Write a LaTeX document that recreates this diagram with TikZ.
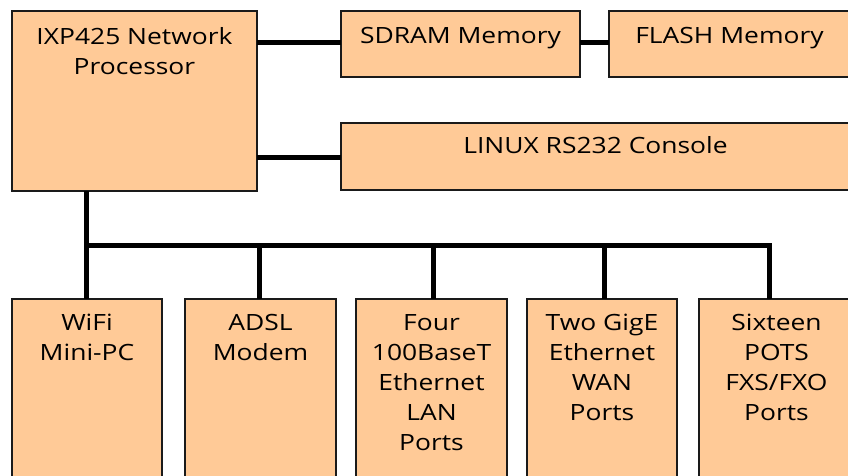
\documentclass[tikz,border=0pt]{standalone}
\usepackage{fontspec}
\setmainfont[FakeStretch=1.18]{Open Sans}
\definecolor{peach}{HTML}{FFCA97}
\definecolor{edge}{HTML}{1A1A1A}
\begin{document}
\begin{tikzpicture}[x=1pt,y=-1pt,
  box/.style={draw=edge, fill=peach, line width=2pt, rectangle, outer sep=0pt, inner sep=0pt, anchor=north west},
  txt/.style={anchor=north, align=center, inner sep=0pt, font=\fontsize{22.4pt}{30pt}\selectfont},
  conn/.style={line width=5pt, black, line join=miter, line cap=butt}]
\useasboundingbox (0,0) rectangle (848,476);
\clip (0,0) rectangle (848,476);
\fill[white] (0,0) rectangle (848,476);
% top boxes
\node[box, minimum width=245pt, minimum height=180pt] (ixp) at (12,11) {};
\node[box, minimum width=239pt, minimum height=66pt] (sdram) at (341,11) {};
\node[box, minimum width=241pt, minimum height=66pt] (flash) at (609,11) {};
\node[box, minimum width=509pt, minimum height=67pt] (linux) at (341,123) {};
% bottom boxes
\node[box, minimum width=150pt, minimum height=200pt] (wifi) at (12,299) {};
\node[box, minimum width=151pt, minimum height=200pt] (adsl) at (185,299) {};
\node[box, minimum width=151pt, minimum height=200pt] (lan) at (356,299) {};
\node[box, minimum width=150pt, minimum height=200pt] (wan) at (527,299) {};
\node[box, minimum width=155pt, minimum height=200pt] (pots) at (699,299) {};
% texts
\node[txt] (tixp) at ([yshift=-16pt]ixp.north) {IXP425 Network\\Processor};
\node[txt] (tsdram) at ([yshift=-16pt]sdram.north) {SDRAM Memory};
\node[txt] (tflash) at ([yshift=-16pt]flash.north) {FLASH Memory};
\node[txt] (tlinux) at ([yshift=-13pt]linux.north) {LINUX RS232 Console};
\node[txt] (twifi) at ([yshift=-15pt]wifi.north) {WiFi\\Mini-PC};
\node[txt] (tadsl) at ([yshift=-15pt]adsl.north) {ADSL\\Modem};
\node[txt] (tlan) at ([yshift=-15pt]lan.north) {Four\\100BaseT\\Ethernet\\LAN\\Ports};
\node[txt] (twan) at ([yshift=-15pt]wan.north) {Two GigE\\Ethernet\\WAN\\Ports};
\node[txt] (tpots) at ([yshift=-15pt]pots.north) {Sixteen\\POTS\\FXS/FXO\\Ports};
% connectors
\coordinate (busL) at (86.5,245);
\coordinate (busR) at (769,245);
\draw[conn] (ixp.east |- 0,43) -- (sdram.west |- 0,43);
\draw[conn] (sdram.east |- 0,43) -- (flash.west |- 0,43);
\draw[conn] (ixp.east |- 0,157) -- (linux.west |- 0,157);
\draw[conn] (busL |- ixp.south) -- (busL) -- (busL |- wifi.north);
\draw[conn] (busL) -- (busR) -- (busR |- pots.north);
\draw[conn] (busL -| 259,0) -- (adsl.north -| 259,0);
\draw[conn] (busL -| 433,0) -- (lan.north -| 433,0);
\draw[conn] (busL -| 604,0) -- (wan.north -| 604,0);
\end{tikzpicture}
\end{document}
